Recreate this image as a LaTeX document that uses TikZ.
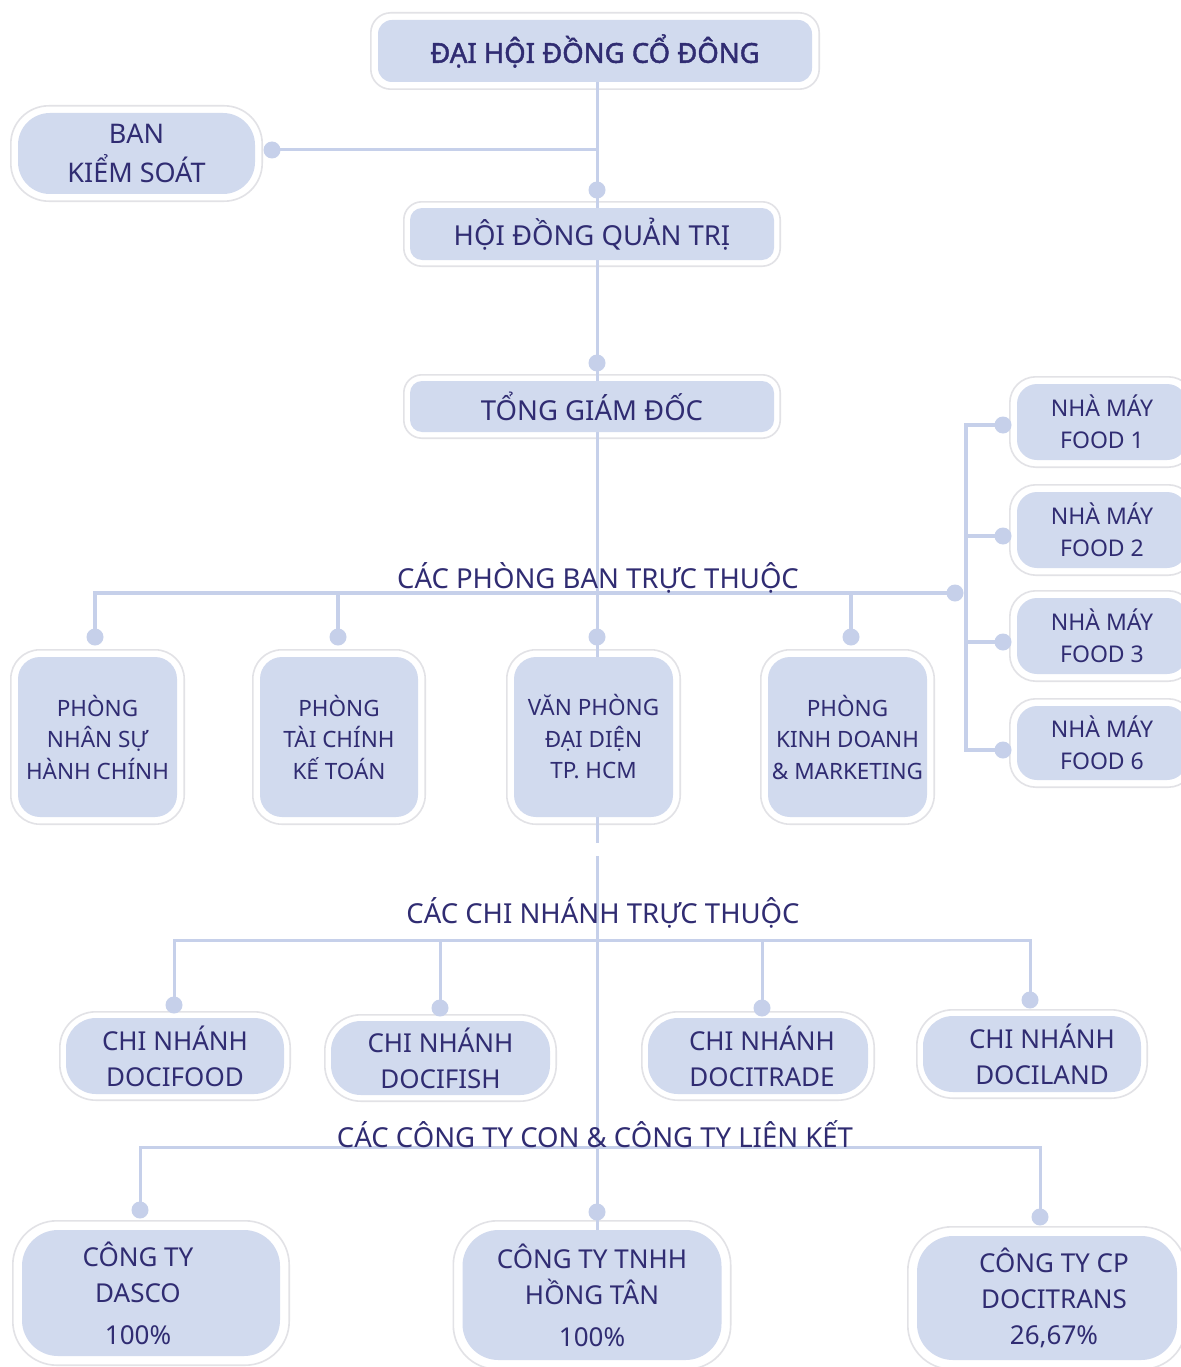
\documentclass[tikz,border=0pt]{standalone}
\usepackage{fontspec}
\setmainfont{Noto Sans}
\newfontfamily\headfont{Noto Sans}[FakeBold=1.6]
\usetikzlibrary{backgrounds}
\definecolor{boxfill}{HTML}{D1DAEE}
\definecolor{linec}{HTML}{C6D0EA}
\definecolor{txt}{HTML}{302C72}
\definecolor{rimc}{HTML}{E2E2E6}
\begin{document}
\begin{tikzpicture}[x=1pt,y=-1pt,
  inbox/.style={fill=boxfill, text=txt, align=center, inner sep=0pt},
  rim/.style={draw=rimc, line width=1.6pt, fill=white},
  conn/.style={draw=linec, line width=4pt},
  thin/.style={draw=linec, line width=3pt},
  dot/.style={circle, fill=linec, inner sep=0pt, minimum size=17pt},
  lbl/.style={text=txt, inner sep=0pt, font=\fontsize{27.5}{30}\selectfont},
  fbig/.style={font=\fontsize{27.5}{36}\selectfont},
  fbr/.style={font=\fontsize{26}{36}\selectfont},
  fdep/.style={font=\fontsize{22.5}{31.5}\selectfont},
  ffac/.style={font=\fontsize{23}{32}\selectfont}]
\useasboundingbox (0,0) rectangle (1180,1367);

% boxes
\node[inbox, rounded corners=14pt, minimum width=434pt, minimum height=62pt, font=\headfont\fontsize{27.5}{30}\selectfont] (dhd) at (595,51) {ĐẠI HỘI ĐỒNG CỔ ĐÔNG};
\node[inbox, rounded corners=32pt, minimum width=237pt, minimum height=81pt, font=\fontsize{27}{39}\selectfont] (bks) at (136.5,153.5) {BAN\\KIỂM SOÁT};
\node[inbox, rounded corners=12pt, minimum width=364pt, minimum height=52pt, fbig] (hdqt) at (592,234) {HỘI ĐỒNG QUẢN TRỊ};
\node[inbox, rounded corners=12pt, minimum width=364pt, minimum height=51pt, fbig] (tgd) at (592,406.5) {TỔNG GIÁM ĐỐC};

\node[inbox, rounded corners=20pt, minimum width=170pt, minimum height=76pt, ffac] (f1) at (1102,422) {NHÀ MÁY\\FOOD 1};
\node[inbox, rounded corners=20pt, minimum width=170pt, minimum height=76pt, ffac] (f2) at (1102,530) {NHÀ MÁY\\FOOD 2};
\node[inbox, rounded corners=20pt, minimum width=170pt, minimum height=76pt, ffac] (f3) at (1102,636) {NHÀ MÁY\\FOOD 3};
\node[inbox, rounded corners=20pt, minimum width=170pt, minimum height=74pt, ffac] (f4) at (1102,743) {NHÀ MÁY\\FOOD 6};

\node[inbox, rounded corners=22pt, minimum width=159pt, minimum height=160pt, fdep] (d1) at (97.5,737) {PHÒNG\\NHÂN SỰ\\HÀNH CHÍNH};
\node[inbox, rounded corners=22pt, minimum width=158pt, minimum height=160pt, fdep] (d2) at (339,737) {PHÒNG\\TÀI CHÍNH\\KẾ TOÁN};
\node[inbox, rounded corners=22pt, minimum width=159pt, minimum height=160pt, fdep] (d3) at (593.5,737) {VĂN PHÒNG\\ĐẠI DIỆN\\TP. HCM};
\node[inbox, rounded corners=22pt, minimum width=159pt, minimum height=160pt, fdep] (d4) at (847.5,737) {PHÒNG\\KINH DOANH\\\& MARKETING};

\node[inbox, rounded corners=30pt, minimum width=218pt, minimum height=76pt, fbr] (b1) at (175,1056) {CHI NHÁNH\\DOCIFOOD};
\node[inbox, rounded corners=30pt, minimum width=219pt, minimum height=74pt, fbr] (b2) at (440.5,1058) {CHI NHÁNH\\DOCIFISH};
\node[inbox, rounded corners=30pt, minimum width=220pt, minimum height=76pt, fbr] (b3) at (758,1056) {\hspace*{8pt}CHI NHÁNH\\\hspace*{8pt}DOCITRADE};
\node[inbox, rounded corners=30pt, minimum width=218pt, minimum height=76pt, fbr] (b4) at (1032,1054) {\hspace*{20pt}CHI NHÁNH\\\hspace*{20pt}DOCILAND};

\node[inbox, rounded corners=36pt, minimum width=258pt, minimum height=126pt, fbr] (c1) at (151,1293) {\hspace*{-26pt}CÔNG TY\\\hspace*{-26pt}DASCO\\[6pt]\hspace*{-26pt}100\%};
\node[inbox, rounded corners=36pt, minimum width=259pt, minimum height=130pt, fbr] (c2) at (592,1295) {CÔNG TY TNHH\\HỒNG TÂN\\[6pt]100\%};
\node[inbox, rounded corners=36pt, minimum width=260pt, minimum height=124pt, fbr] (c3) at (1047,1298) {\hspace*{14pt}CÔNG TY CP\\\hspace*{14pt}DOCITRANS\\[0pt]\hspace*{14pt}26,67\%};

% labels
\node[lbl] (lp) at (598,578) {CÁC PHÒNG BAN TRỰC THUỘC};
\node[lbl] (lb) at (603,913) {CÁC CHI NHÁNH TRỰC THUỘC};
\node[lbl] (lc) at (595,1134) {CÁC CÔNG TY CON \& CÔNG TY LIÊN KẾT};

\begin{pgfonlayer}{background}
\fill[white] (0,0) rectangle (1180,1367);
\foreach \n/\r/\m in {dhd/20/7, bks/38/7, hdqt/18/6, tgd/18/6, f1/26/7, f2/26/7, f3/26/7, f4/26/7,
   d1/29/7, d2/29/7, d3/29/7, d4/29/7, b1/36/6, b2/36/6, b3/36/6, b4/36/6, c1/44/9, c2/44/9, c3/44/9}
  \draw[rim, rounded corners=\r pt] ([shift={(-\m pt,\m pt)}]\n.north west) rectangle ([shift={(\m pt,-\m pt)}]\n.south east);

% dots
\node[dot] (pBKS) at (272,150) {};
\node[dot] (pHD) at (597,190) {};
\node[dot] (pTG) at (597,363) {};
\node[dot] (pD1) at (95,637) {};
\node[dot] (pD2) at (338,637) {};
\node[dot] (pD3) at (597,637) {};
\node[dot] (pD4) at (851,637) {};
\node[dot] (pF) at (955,593) {};
\node[dot] (pF1) at (1003,425) {};
\node[dot] (pF2) at (1003,536) {};
\node[dot] (pF3) at (1003,642) {};
\node[dot] (pF4) at (1003,750) {};
\node[dot] (pB1) at (174,1005) {};
\node[dot] (pB2) at (440,1008) {};
\node[dot] (pB3) at (762,1008) {};
\node[dot] (pB4) at (1030,1000) {};
\node[dot] (pC1) at (140,1210) {};
\node[dot] (pC2) at (597,1212) {};
\node[dot] (pC3) at (1040,1217) {};
\coordinate (jF) at (966,593);
\coordinate (gapA) at (597,843);
\coordinate (gapB) at (597,856);
\coordinate (hB) at (597,940);
\coordinate (hC) at (597,1147);

% connectors
\draw[thin] (dhd.south -| pHD) -- (pHD.center) -- (hdqt.north -| pHD);
\draw[thin] (pBKS.center) -- (pBKS -| pHD);
\draw[thin] (hdqt.south -| pHD) -- (pTG.center) -- (tgd.north -| pHD);
\draw[thin] (tgd.south -| pHD) -- (pD3.center) -- (d3.north -| pHD);
\draw[conn] (pD1.center) |- (pF.center);
\draw[conn] (pD2.center) -- (pD2 |- pF);
\draw[conn] (pD4.center) -- (pD4 |- pF);
\draw[conn] (pF1.center) -| (jF) |- (pF4.center);
\draw[conn] (pF2.center) -- (pF2 -| jF);
\draw[conn] (pF3.center) -- (pF3 -| jF);
\draw[thin] (d3.south -| pHD) -- (gapA);
\draw[thin] (gapB) -- (pC2.center) -- (c2.north -| pHD);
\draw[thin] (pB1.center) |- (hB) -| (pB4.center);
\draw[thin] (pB2.center) -- (pB2 |- hB);
\draw[thin] (pB3.center) -- (pB3 |- hB);
\draw[thin] (pC1.center) |- (hC) -| (pC3.center);
\end{pgfonlayer}
\end{tikzpicture}
\end{document}
